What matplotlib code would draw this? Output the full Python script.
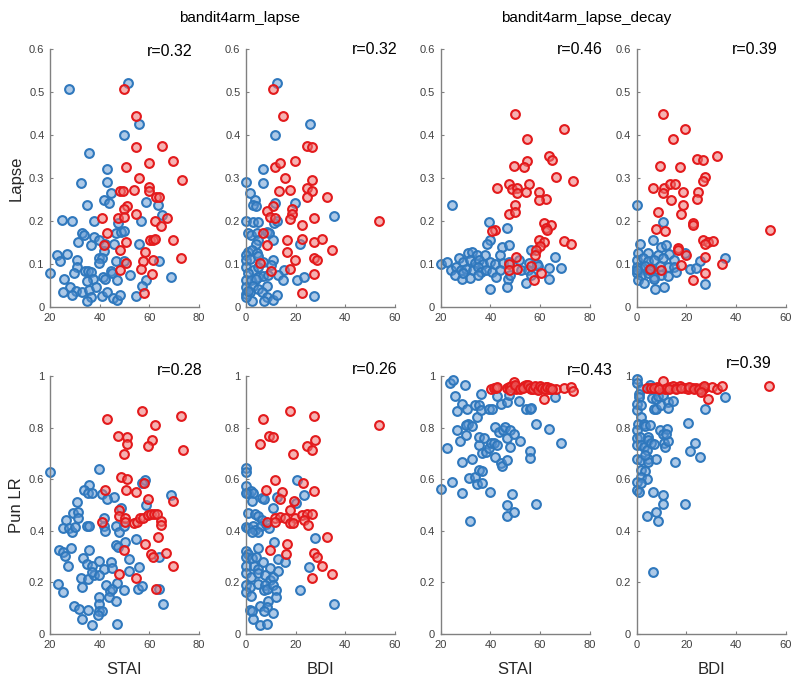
import matplotlib.pyplot as plt

plt.rcParams['font.family'] = ['Liberation Sans', 'DejaVu Sans']

# panel 1: lapse model, STAI vs Lapse
p1_blue_x = [27.6, 51.5, 55.8, 49.8, 35.8, 42.8, 42.8, 32.7, 44.5, 41.7, 43.8, 34.8, 58.6, 63.6, 65.2,
             56.8, 24.7, 28.7, 37.9, 47.5, 32.9, 33.9, 31.4, 37.9, 39.9, 46.8, 48.8, 49.9, 46.0, 36.4,
             42.1, 41.8, 22.9, 26.9, 24.0, 30.7, 39.9, 40.8, 39.8, 46.7, 49.9, 64.0, 30.7, 29.7, 20.0,
             34.1, 35.4, 36.4, 44.5, 45.2, 52.1, 25.8, 37.2, 41.3, 42.1, 47.1, 34.9, 58.9, 68.7, 28.1,
             30.6, 25.1, 28.7, 32.9, 35.8, 38.4, 36.4, 40.8, 43.0, 45.3, 47.1, 48.1, 54.6, 57.2, 34.9,
             55.8]
p1_blue_y = [0.507, 0.520, 0.425, 0.401, 0.358, 0.322, 0.290, 0.289, 0.265, 0.248, 0.243, 0.237, 0.244, 0.237, 0.213,
             0.199, 0.202, 0.201, 0.199, 0.196, 0.173, 0.168, 0.151, 0.163, 0.155, 0.171, 0.175, 0.176, 0.146, 0.144,
             0.147, 0.130, 0.120, 0.123, 0.106, 0.109, 0.113, 0.115, 0.102, 0.107, 0.106, 0.107, 0.093, 0.078, 0.078,
             0.083, 0.083, 0.082, 0.083, 0.078, 0.075, 0.064, 0.065, 0.070, 0.064, 0.062, 0.061, 0.062, 0.070, 0.047,
             0.037, 0.035, 0.029, 0.035, 0.040, 0.047, 0.023, 0.025, 0.035, 0.021, 0.016, 0.029, 0.026, 0.048, 0.014,
             0.146]
p1_red_x = [49.8, 54.6, 54.6, 65.0, 50.7, 59.9, 69.7, 55.7, 73.4, 54.0, 59.9, 59.9, 48.2, 49.4, 62.8,
            64.0, 51.0, 49.8, 54.6, 40.8, 47.4, 50.0, 62.5, 67.0, 64.8, 43.0, 50.7, 41.9, 60.4, 61.7,
            62.5, 69.7, 48.2, 58.5, 61.7, 72.7, 57.7, 50.7, 56.8, 48.2, 61.3, 57.8]
p1_red_y = [0.508, 0.444, 0.372, 0.374, 0.326, 0.334, 0.339, 0.299, 0.295, 0.272, 0.278, 0.270, 0.270, 0.270, 0.255,
            0.256, 0.236, 0.227, 0.217, 0.208, 0.206, 0.210, 0.200, 0.208, 0.189, 0.171, 0.151, 0.144, 0.155, 0.157,
            0.159, 0.157, 0.132, 0.127, 0.110, 0.113, 0.108, 0.102, 0.088, 0.085, 0.076, 0.033]

# panel 2: lapse model, BDI vs Lapse
p2_blue_x = [12.6, 25.8, 11.7, 6.7, 0.0, 6.7, 1.6, 3.6, 2.9, 4.0, 11.7, 19.7, 0.0, 2.7, 5.0,
             11.4, 12.6, 35.6, 1.0, 2.0, 4.3, 8.4, 9.2, 5.0, 10.7, 3.9, 21.7, 0.7, 2.3, 4.3,
             0.0, 0.0, 1.6, 5.0, 10.7, 6.7, 9.9, 0.0, 2.7, 5.0, 15.4, 1.0, 5.0, 6.7, 9.0,
             12.8, 0.0, 2.0, 4.0, 14.8, 20.7, 23.5, 0.0, 2.9, 5.0, 8.6, 0.0, 1.6, 6.3, 8.4,
             10.7, 12.6, 2.3, 7.4, 27.5, 0.0, 0.7]
p2_blue_y = [0.520, 0.425, 0.401, 0.322, 0.291, 0.289, 0.265, 0.248, 0.237, 0.235, 0.243, 0.243, 0.201, 0.198, 0.198,
             0.196, 0.199, 0.212, 0.173, 0.168, 0.172, 0.175, 0.171, 0.157, 0.157, 0.147, 0.146, 0.128, 0.132, 0.126,
             0.120, 0.109, 0.111, 0.118, 0.109, 0.105, 0.097, 0.093, 0.085, 0.093, 0.085, 0.078, 0.070, 0.071, 0.074,
             0.075, 0.062, 0.062, 0.064, 0.062, 0.062, 0.070, 0.047, 0.048, 0.043, 0.048, 0.031, 0.035, 0.035, 0.023,
             0.016, 0.029, 0.014, 0.014, 0.025, 0.023, 0.037]
p2_red_x = [10.7, 14.8, 24.7, 26.8, 11.7, 13.7, 19.7, 15.7, 26.7, 13.4, 17.7, 24.4, 26.8, 32.5, 24.4,
            11.0, 8.6, 18.4, 18.7, 9.7, 11.7, 17.7, 27.5, 22.7, 7.0, 16.6, 22.7, 27.5, 30.7, 8.4,
            16.6, 34.5, 19.7, 27.5, 28.8, 5.6, 17.7, 9.9, 27.5, 53.5, 22.7]
p2_red_y = [0.508, 0.444, 0.374, 0.372, 0.326, 0.334, 0.339, 0.300, 0.295, 0.270, 0.272, 0.277, 0.270, 0.256, 0.255,
            0.236, 0.223, 0.227, 0.217, 0.210, 0.208, 0.205, 0.208, 0.190, 0.171, 0.157, 0.158, 0.151, 0.158, 0.144,
            0.127, 0.132, 0.109, 0.113, 0.110, 0.102, 0.089, 0.084, 0.076, 0.201, 0.033]

# panel 3: lapse_decay model, STAI vs Lapse
p3_blue_x = [24.7, 39.5, 46.7, 39.7, 38.8, 44.6, 47.6, 56.5, 31.0, 32.7, 34.4, 37.7, 43.7, 20.0, 22.7,
             27.4, 29.0, 31.7, 33.7, 35.4, 37.0, 39.7, 41.7, 45.0, 47.6, 51.6, 55.6, 58.6, 65.9, 24.3,
             26.3, 28.3, 30.3, 33.0, 35.0, 36.4, 38.4, 40.8, 43.7, 52.4, 55.1, 59.1, 63.5, 68.5, 25.6,
             28.7, 31.7, 35.0, 42.4, 47.1, 47.8, 56.5, 63.6, 40.0, 46.7, 54.5, 29.0]
p3_blue_y = [0.237, 0.198, 0.184, 0.157, 0.146, 0.140, 0.144, 0.133, 0.126, 0.128, 0.120, 0.120, 0.122, 0.099, 0.105,
             0.113, 0.105, 0.109, 0.102, 0.109, 0.101, 0.105, 0.099, 0.102, 0.105, 0.110, 0.102, 0.101, 0.116, 0.085,
             0.093, 0.085, 0.089, 0.085, 0.092, 0.081, 0.085, 0.081, 0.085, 0.087, 0.085, 0.095, 0.091, 0.091, 0.074,
             0.064, 0.068, 0.074, 0.070, 0.066, 0.074, 0.074, 0.066, 0.043, 0.047, 0.056, 0.078]
p3_red_x = [49.8, 69.5, 54.8, 63.6, 64.9, 54.8, 49.5, 53.6, 66.6, 73.5, 42.8, 47.4, 48.7, 50.7, 55.5,
            50.7, 54.5, 59.6, 62.6, 59.6, 49.8, 47.4, 49.8, 41.7, 40.6, 61.5, 64.6, 62.6, 62.9, 59.6,
            61.5, 59.8, 69.5, 72.6, 58.5, 57.8, 50.5, 47.6, 56.5, 47.6, 50.7, 60.5, 57.6]
p3_red_y = [0.448, 0.414, 0.390, 0.352, 0.343, 0.340, 0.328, 0.325, 0.303, 0.293, 0.277, 0.286, 0.274, 0.277, 0.286,
            0.265, 0.268, 0.268, 0.252, 0.248, 0.238, 0.216, 0.220, 0.180, 0.176, 0.196, 0.190, 0.184, 0.178, 0.155,
            0.151, 0.141, 0.154, 0.147, 0.133, 0.120, 0.116, 0.099, 0.095, 0.087, 0.089, 0.079, 0.062]

# panel 4: lapse_decay model, BDI vs Lapse
p4_blue_x = [0.0, 10.5, 6.5, 1.3, 9.8, 11.6, 19.3, 35.7, 0.4, 4.4, 8.4, 12.9, 0.0, 2.4, 4.4,
             7.1, 10.5, 15.0, 25.3, 0.0, 1.1, 3.4, 5.8, 9.2, 12.5, 15.0, 21.3, 23.7, 0.0, 1.8,
             4.4, 6.9, 9.8, 12.5, 15.9, 0.4, 2.8, 7.1, 7.4, 10.8, 27.4, 0.0, 5.1]
p4_blue_y = [0.237, 0.198, 0.157, 0.146, 0.140, 0.145, 0.126, 0.115, 0.126, 0.126, 0.120, 0.124, 0.109, 0.113, 0.107,
             0.109, 0.113, 0.109, 0.107, 0.093, 0.091, 0.095, 0.089, 0.095, 0.093, 0.092, 0.089, 0.091, 0.078, 0.074,
             0.079, 0.070, 0.074, 0.071, 0.081, 0.062, 0.056, 0.064, 0.043, 0.047, 0.054, 0.085, 0.085]
p4_red_x = [10.5, 19.3, 14.6, 32.5, 24.4, 26.7, 9.4, 17.5, 27.6, 26.7, 6.5, 11.1, 13.2, 15.5, 10.5,
            18.6, 24.7, 24.4, 13.6, 18.6, 8.5, 17.7, 22.6, 22.6, 7.8, 11.5, 53.7, 26.7, 28.7, 30.7,
            27.4, 16.6, 16.6, 19.7, 27.4, 17.7, 34.4, 5.5, 9.6, 27.4, 22.6]
p4_red_y = [0.448, 0.414, 0.390, 0.352, 0.344, 0.342, 0.328, 0.326, 0.303, 0.293, 0.277, 0.276, 0.286, 0.286, 0.265,
            0.268, 0.268, 0.252, 0.248, 0.238, 0.220, 0.216, 0.196, 0.190, 0.182, 0.177, 0.180, 0.155, 0.151, 0.153,
            0.146, 0.138, 0.132, 0.120, 0.116, 0.097, 0.099, 0.088, 0.087, 0.079, 0.062]

# panel 5: lapse model, STAI vs Pun LR
p5_blue_x = [20.0, 39.7, 58.5, 57.2, 35.8, 33.6, 35.4, 36.8, 41.1, 46.0, 43.0, 68.7, 30.7, 58.6, 48.6,
             29.4, 31.1, 26.6, 31.1, 41.9, 25.3, 27.6, 28.9, 29.9, 34.8, 35.9, 41.9, 42.0, 46.6, 47.8,
             49.8, 23.7, 25.1, 25.9, 28.6, 35.8, 46.7, 47.4, 50.1, 54.8, 27.3, 33.4, 34.9, 36.8, 39.9,
             41.8, 44.7, 45.0, 51.8, 51.8, 55.8, 64.0, 32.6, 35.2, 37.6, 36.9, 39.9, 32.9, 42.7, 44.3,
             45.0, 47.0, 49.9, 55.6, 57.0, 64.0, 23.1, 25.1, 29.8, 31.8, 35.2, 32.9, 36.9, 39.7, 39.7,
             39.7, 41.0, 43.9, 46.7, 47.1, 65.6, 39.5]
p5_blue_y = [0.629, 0.640, 0.598, 0.586, 0.577, 0.558, 0.545, 0.548, 0.541, 0.532, 0.523, 0.539, 0.513, 0.500, 0.490,
             0.468, 0.472, 0.442, 0.448, 0.448, 0.412, 0.410, 0.397, 0.416, 0.420, 0.420, 0.420, 0.399, 0.419, 0.397,
             0.419, 0.326, 0.317, 0.303, 0.335, 0.326, 0.345, 0.339, 0.356, 0.369, 0.262, 0.296, 0.271, 0.265, 0.284,
             0.251, 0.278, 0.255, 0.291, 0.245, 0.259, 0.298, 0.219, 0.213, 0.229, 0.242, 0.229, 0.184, 0.191, 0.165,
             0.174, 0.197, 0.171, 0.174, 0.187, 0.174, 0.193, 0.161, 0.107, 0.098, 0.094, 0.058, 0.034, 0.142, 0.116,
             0.088, 0.088, 0.142, 0.129, 0.040, 0.117, 0.075]
p5_red_x = [42.8, 56.9, 72.7, 62.5, 47.5, 50.9, 61.1, 50.9, 59.7, 73.7, 49.9, 48.6, 50.9, 57.8, 42.0,
            50.6, 54.8, 59.7, 69.7, 47.8, 48.0, 40.8, 50.1, 50.1, 54.0, 55.0, 56.1, 57.7, 59.5, 60.8,
            62.0, 63.0, 64.7, 64.7, 63.7, 58.5, 60.6, 61.7, 66.7, 69.7, 49.9, 54.8, 47.9, 62.7]
p5_red_y = [0.835, 0.865, 0.844, 0.812, 0.767, 0.764, 0.754, 0.735, 0.729, 0.713, 0.697, 0.607, 0.600, 0.586, 0.558,
            0.557, 0.552, 0.523, 0.515, 0.481, 0.459, 0.436, 0.451, 0.436, 0.429, 0.436, 0.448, 0.448, 0.461, 0.464,
            0.464, 0.464, 0.439, 0.423, 0.378, 0.348, 0.311, 0.300, 0.313, 0.262, 0.326, 0.219, 0.232, 0.174]

# panel 6: lapse model, BDI vs Pun LR
p6_blue_x = [0.0, 0.0, 0.0, 1.0, 2.0, 3.0, 2.3, 6.3, 7.4, 12.6, 20.7, 23.5, 20.0, 11.0, 0.7,
             3.6, 4.7, 6.3, 0.0, 0.7, 3.0, 3.6, 6.0, 8.0, 9.2, 5.0, 2.3, 11.3, 4.7, 27.8,
             0.0, 0.7, 0.0, 2.3, 4.0, 6.7, 12.8, 15.7, 0.0, 3.4, 5.0, 9.7, 25.5, 0.0, 2.0,
             5.0, 7.7, 9.7, 11.0, 12.8, 0.0, 1.6, 4.7, 7.7, 7.4, 8.6, 11.0, 12.0, 21.7, 0.0,
             2.0, 9.0, 12.0, 1.6, 2.3, 5.6, 8.3, 7.4, 11.0, 3.0, 5.6, 8.4, 35.6, 0.0]
p6_blue_y = [0.642, 0.629, 0.573, 0.548, 0.554, 0.548, 0.517, 0.526, 0.523, 0.532, 0.597, 0.539, 0.506, 0.487, 0.470,
             0.465, 0.459, 0.442, 0.416, 0.410, 0.419, 0.403, 0.420, 0.425, 0.410, 0.397, 0.397, 0.356, 0.335, 0.371,
             0.323, 0.311, 0.300, 0.294, 0.298, 0.281, 0.291, 0.278, 0.262, 0.262, 0.253, 0.255, 0.259, 0.236, 0.223,
             0.236, 0.229, 0.210, 0.223, 0.245, 0.191, 0.184, 0.193, 0.191, 0.171, 0.175, 0.191, 0.171, 0.169, 0.162,
             0.146, 0.129, 0.143, 0.094, 0.090, 0.107, 0.103, 0.090, 0.080, 0.058, 0.034, 0.039, 0.117, 0.545]
p6_red_x = [6.9, 17.7, 27.5, 53.5, 9.4, 11.0, 27.8, 5.6, 24.4, 26.7, 18.8, 11.7, 22.8, 7.9, 27.5,
            14.6, 13.7, 19.3, 17.7, 11.7, 13.7, 15.7, 19.7, 8.3, 17.7, 19.1, 11.7, 22.4, 24.4, 26.7,
            23.5, 25.0, 32.7, 16.6, 16.3, 27.5, 28.8, 30.7, 34.5, 26.7, 9.7]
p6_red_y = [0.835, 0.865, 0.844, 0.809, 0.767, 0.762, 0.751, 0.735, 0.728, 0.713, 0.696, 0.599, 0.584, 0.558, 0.555,
            0.552, 0.523, 0.515, 0.481, 0.448, 0.455, 0.448, 0.448, 0.436, 0.432, 0.429, 0.436, 0.461, 0.464, 0.465,
            0.443, 0.423, 0.378, 0.348, 0.311, 0.313, 0.300, 0.262, 0.232, 0.216, 0.326]

# panel 7: lapse_decay model, STAI vs Pun LR
p7_blue_x = [20.0, 22.7, 23.6, 24.9, 24.5, 25.6, 26.6, 26.6, 27.8, 28.6, 28.6, 28.6, 29.7, 30.0, 30.7,
             31.0, 30.3, 31.4, 31.7, 32.7, 32.4, 33.7, 33.7, 34.4, 34.6, 35.4, 35.4, 35.4, 35.4, 36.4,
             36.4, 36.8, 36.8, 36.8, 37.4, 38.4, 39.3, 39.5, 39.7, 40.4, 40.8, 41.3, 41.7, 41.7, 42.7,
             42.7, 43.5, 44.4, 44.7, 44.4, 45.1, 46.0, 46.7, 46.7, 46.7, 46.8, 46.7, 47.8, 47.8, 48.8,
             49.7, 49.7, 51.5, 51.8, 54.5, 55.8, 56.5, 55.8, 55.8, 58.5, 58.5, 63.6, 65.9, 68.5, 47.5]
p7_blue_y = [0.562, 0.720, 0.974, 0.983, 0.590, 0.923, 0.863, 0.790, 0.747, 0.893, 0.665, 0.548, 0.964, 0.771, 0.874,
             0.816, 0.812, 0.606, 0.439, 0.806, 0.680, 0.887, 0.610, 0.580, 0.842, 0.887, 0.733, 0.764, 0.635, 0.929,
             0.867, 0.700, 0.631, 0.584, 0.758, 0.706, 0.720, 0.871, 0.552, 0.739, 0.871, 0.739, 0.686, 0.803, 0.923,
             0.733, 0.784, 0.662, 0.651, 0.893, 0.790, 0.803, 0.761, 0.675, 0.900, 0.500, 0.459, 0.790, 0.726, 0.541,
             0.474, 0.777, 0.902, 0.747, 0.871, 0.874, 0.876, 0.709, 0.683, 0.816, 0.503, 0.796, 0.919, 0.741, 0.928]
p7_red_x = [40.1, 41.3, 42.1, 42.7, 46.7, 47.5, 48.5, 49.4, 49.8, 50.5, 51.8, 53.4, 54.5, 55.1, 56.5,
            57.9, 59.2, 60.1, 61.5, 62.3, 63.2, 64.2, 66.3, 69.5, 72.6, 73.5, 48.0, 50.0, 52.0, 53.0,
            55.0, 56.0, 57.0, 58.0, 59.0, 60.0, 61.0, 62.0, 63.0, 64.0, 65.0]
p7_red_y = [0.951, 0.955, 0.955, 0.957, 0.954, 0.957, 0.961, 0.977, 0.957, 0.951, 0.955, 0.961, 0.964, 0.957, 0.951,
            0.954, 0.957, 0.951, 0.910, 0.957, 0.951, 0.951, 0.951, 0.955, 0.957, 0.944, 0.945, 0.965, 0.948, 0.955,
            0.965, 0.955, 0.948, 0.960, 0.945, 0.962, 0.955, 0.948, 0.958, 0.955, 0.948]

# panel 8: lapse_decay model, BDI vs Pun LR
p8_blue_x = [0.0, 0.0, 1.5, 0.7, 0.7, 0.0, 0.0, 1.8, 1.8, 0.4, 2.8, 3.4, 5.5, 0.0, 0.0,
             1.1, 4.4, 4.7, 0.0, 1.8, 2.8, 4.0, 5.8, 6.9, 0.0, 1.5, 4.4, 4.4, 3.4, 7.8,
             1.5, 3.4, 1.8, 4.0, 0.0, 0.0, 0.7, 1.8, 6.5, 10.5, 10.5, 4.2, 7.8, 8.5, 19.3,
             6.7, 5.5, 5.5, 6.1, 7.8, 6.9, 7.8, 8.5, 9.8, 10.5, 12.5, 12.5, 14.6, 9.2, 10.5,
             10.9, 11.5, 12.5, 12.3, 11.9, 15.5, 20.6, 21.3, 23.3, 25.6, 27.4, 35.7]
p8_blue_y = [0.987, 0.974, 0.951, 0.932, 0.919, 0.893, 0.867, 0.887, 0.842, 0.816, 0.816, 0.807, 0.810, 0.790, 0.761,
             0.764, 0.764, 0.751, 0.733, 0.733, 0.726, 0.713, 0.742, 0.735, 0.680, 0.675, 0.680, 0.667, 0.693, 0.680,
             0.635, 0.631, 0.610, 0.601, 0.590, 0.557, 0.549, 0.584, 0.552, 0.539, 0.503, 0.459, 0.474, 0.439, 0.503,
             0.242, 0.966, 0.954, 0.915, 0.912, 0.874, 0.874, 0.923, 0.887, 0.926, 0.900, 0.876, 0.902, 0.790, 0.777,
             0.739, 0.726, 0.748, 0.796, 0.777, 0.667, 0.818, 0.709, 0.742, 0.687, 0.871, 0.919]
p8_red_x = [4.2, 5.8, 8.2, 10.5, 11.2, 13.2, 14.6, 15.9, 17.3, 19.3, 20.6, 22.6, 24.0, 25.7, 27.1,
            26.3, 28.7, 30.3, 32.5, 34.4, 53.4, 7.0, 9.0, 12.0, 13.0, 16.0, 18.0, 21.0, 23.0, 25.0,
            27.0, 26.0]
p8_red_y = [0.954, 0.954, 0.957, 0.979, 0.951, 0.957, 0.961, 0.955, 0.961, 0.955, 0.951, 0.955, 0.954, 0.955, 0.954,
            0.945, 0.910, 0.957, 0.948, 0.961, 0.960, 0.952, 0.950, 0.955, 0.948, 0.950, 0.952, 0.958, 0.950, 0.948,
            0.960, 0.940]

r_labels = ['r=0.32', 'r=0.32', 'r=0.46', 'r=0.39', 'r=0.28', 'r=0.26', 'r=0.43', 'r=0.39']
r_pos = [(0.65, 0.99), (0.71, 1.0), (0.78, 1.0), (0.64, 1.0),
         (0.72, 1.023), (0.71, 1.027), (0.85, 1.023), (0.60, 1.05)]

panels = [
    (p1_blue_x, p1_blue_y, p1_red_x, p1_red_y),
    (p2_blue_x, p2_blue_y, p2_red_x, p2_red_y),
    (p3_blue_x, p3_blue_y, p3_red_x, p3_red_y),
    (p4_blue_x, p4_blue_y, p4_red_x, p4_red_y),
    (p5_blue_x, p5_blue_y, p5_red_x, p5_red_y),
    (p6_blue_x, p6_blue_y, p6_red_x, p6_red_y),
    (p7_blue_x, p7_blue_y, p7_red_x, p7_red_y),
    (p8_blue_x, p8_blue_y, p8_red_x, p8_red_y),
]

blue_edge = '#2f78bd'
blue_face = (0.36, 0.58, 0.82, 0.5)
red_edge = '#e31a1c'
red_face = (0.93, 0.45, 0.45, 0.55)
axis_grey = '#808080'
text_grey = '#404040'

fig = plt.figure(figsize=(8, 6.83), dpi=100)
lefts = [0.0625, 0.3075, 0.551, 0.796]
bottoms = [0.5505, 0.0717]
w, h = 0.186, 0.3777

for i, (bx, by, rx, ry) in enumerate(panels):
    row, col = divmod(i, 4)
    ax = fig.add_axes([lefts[col], bottoms[row], w, h])
    ax.scatter(bx, by, s=40, facecolors=[blue_face], edgecolors=blue_edge, linewidths=1.5,
               zorder=2, clip_on=False)
    ax.scatter(rx, ry, s=40, facecolors=[red_face], edgecolors=red_edge, linewidths=1.5,
               zorder=3, clip_on=False)

    if col % 2 == 0:
        ax.set_xlim(20, 80)
        ax.set_xticks([20, 40, 60, 80])
    else:
        ax.set_xlim(0, 60)
        ax.set_xticks([0, 20, 40, 60])
    if row == 0:
        ax.set_ylim(0, 0.6)
        ax.set_yticks([0, 0.1, 0.2, 0.3, 0.4, 0.5, 0.6])
        ax.set_yticklabels(['0', '0.1', '0.2', '0.3', '0.4', '0.5', '0.6'])
    else:
        ax.set_ylim(0, 1)
        ax.set_yticks([0, 0.2, 0.4, 0.6, 0.8, 1])
        ax.set_yticklabels(['0', '0.2', '0.4', '0.6', '0.8', '1'])
        ax.set_xlabel('STAI' if col % 2 == 0 else 'BDI', fontsize=12, color='#262626', labelpad=9)

    for side in ['top', 'right']:
        ax.spines[side].set_visible(False)
    for side in ['left', 'bottom']:
        ax.spines[side].set_color(axis_grey)
        ax.spines[side].set_linewidth(1.0)
    ax.tick_params(direction='in', length=2.5, width=0.8, color=axis_grey,
                   labelcolor=text_grey, labelsize=8, pad=4)

    ax.text(r_pos[i][0], r_pos[i][1], r_labels[i], transform=ax.transAxes,
            ha='left', va='center', fontsize=11.5, color='black', clip_on=False)

    if col == 0:
        ax.set_ylabel('Lapse' if row == 0 else 'Pun LR', fontsize=12, color='#262626', labelpad=4)

fig.text(0.3, 0.974, 'bandit4arm_lapse', ha='center', va='center', fontsize=11)
fig.text(0.7325, 0.974, 'bandit4arm_lapse_decay', ha='center', va='center', fontsize=11)

fig.savefig('out.png', dpi=100)
